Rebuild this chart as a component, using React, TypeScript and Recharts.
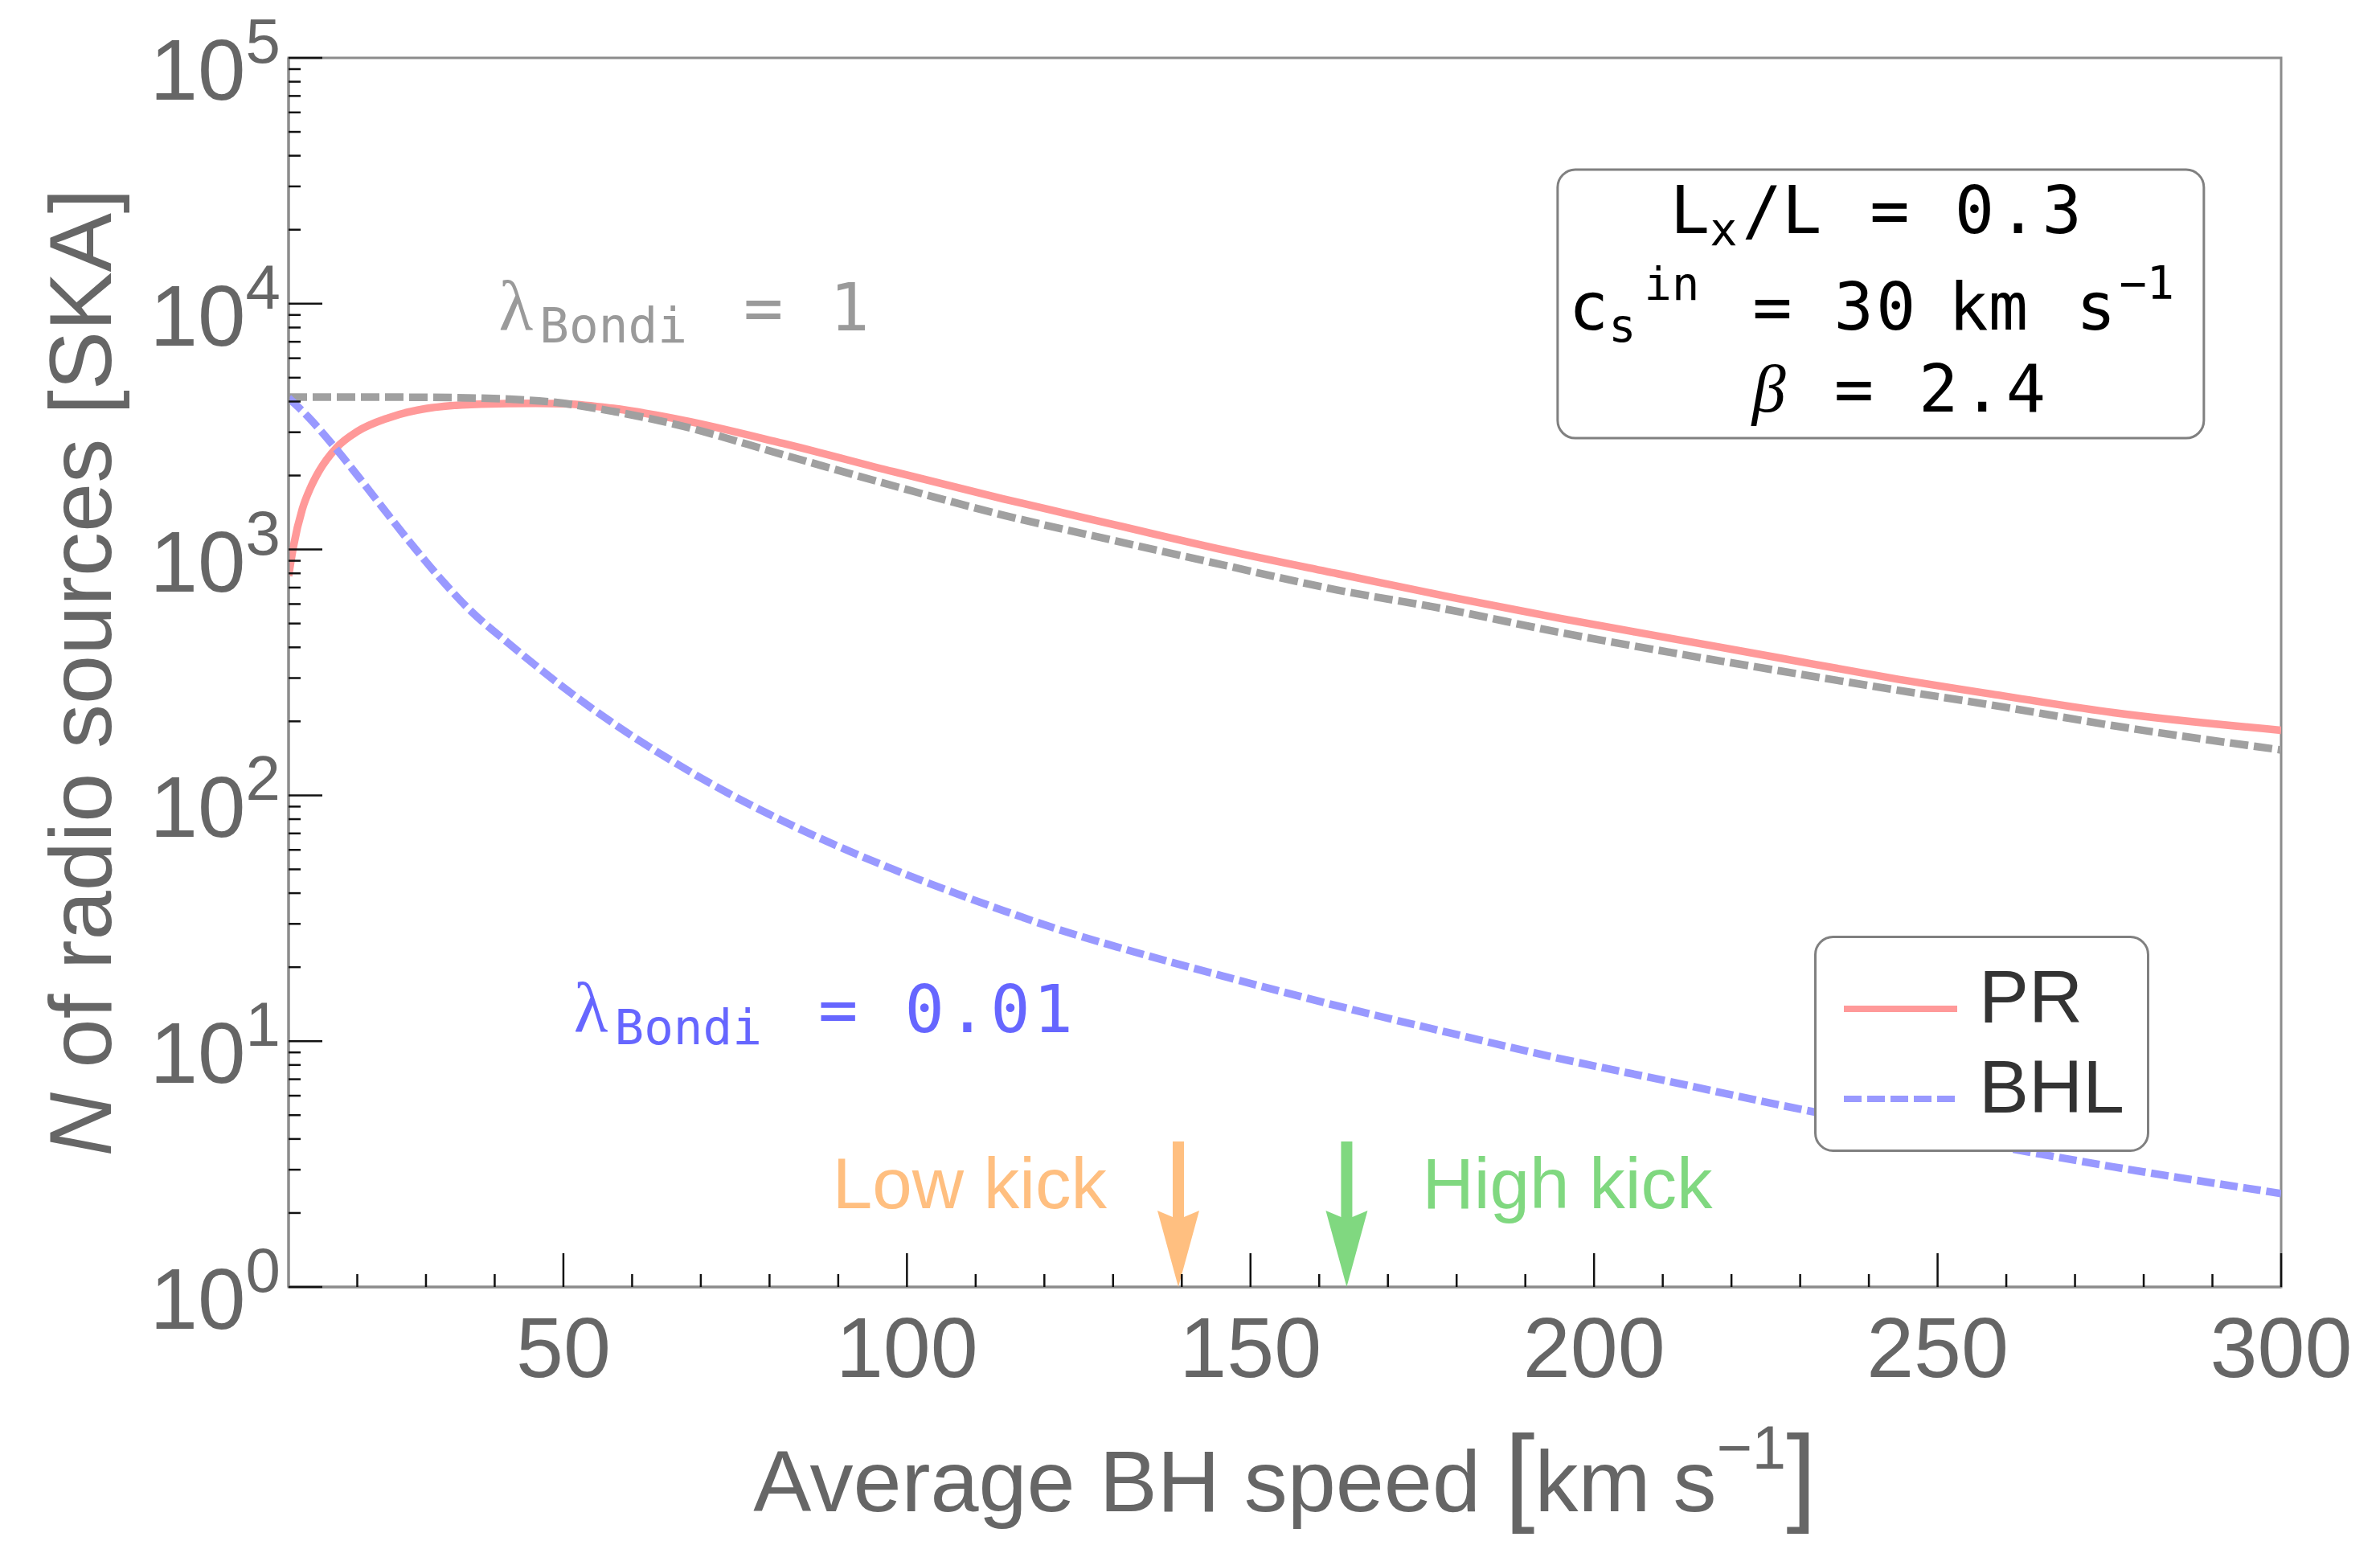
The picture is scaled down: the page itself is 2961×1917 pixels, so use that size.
import React from 'react';
import { LineChart, Line, XAxis, YAxis, ReferenceDot, ReferenceArea, Legend } from 'recharts';

const W = 2961;
const H = 1917;

// ---------- data ----------
const prSpeed = [10, 10.7, 12, 13.2, 14.4, 17, 20, 24.5, 30, 38, 46, 50, 56, 66, 82, 98, 114, 130.5, 146.6, 162.7, 179, 195, 211, 227, 243, 259.5, 275.6, 300];
const prCount = [780, 1027, 1460, 1785, 2075, 2600, 3020, 3430, 3745, 3905, 3935, 3920, 3790, 3420, 2700, 2074, 1608, 1256, 989, 797, 641, 525, 436, 362, 301, 254, 217, 184];

const bhlSpeed = [10, 12.8, 17.1, 20.6, 24.5, 28.4, 32.3, 36.2, 42, 50, 58, 66, 74, 82, 90, 98, 106, 114, 122, 130.5, 146.6, 162.7, 179, 195, 211, 227, 243, 259.5, 275.6, 300];
const bhlCount = [4140, 3475, 2530, 1910, 1384, 1010, 751, 574, 416, 275, 190, 137, 102, 78.5, 62, 50, 41, 34, 28.5, 24.2, 18.2, 13.9, 10.8, 8.5, 6.85, 5.5, 4.5, 3.7, 3.08, 2.4];

const bondiOneSpeed = [10, 20, 30, 36, 42, 48, 56, 66, 82, 98, 114, 130.5, 146.6, 162.7, 179, 195, 211, 227, 243, 259.5, 275.6, 300];
const bondiOneCount = [4170, 4170, 4160, 4140, 4090, 3990, 3700, 3245, 2430, 1817, 1380, 1082, 858, 684, 568, 460, 382, 321, 271, 229, 192, 153];

const xMajorTicks = [50, 100, 150, 200, 250, 300];
const xMinorTicks = [20, 30, 40, 60, 70, 80, 90, 110, 120, 130, 140, 160, 170, 180, 190, 210, 220, 230, 240, 260, 270, 280, 290];
const yMajorTicks = [1, 10, 100, 1000, 10000, 100000];
const yMinorMultipliers = [2, 3, 4, 5, 6, 7, 8, 9];

const legendOrder = ['PR', 'BHL'];

const lowKickSpeed = 139.5;
const highKickSpeed = 164;

// ---------- derived tables ----------
const zip = (xs: number[], ys: number[]) => xs.map((v, i) => ({ v, n: ys[i] }));
const prData = zip(prSpeed, prCount);
const bhlData = zip(bhlSpeed, bhlCount);
const bondiOneData = zip(bondiOneSpeed, bondiOneCount);

const xTicks = [...xMajorTicks, ...xMinorTicks].sort((a, b) => a - b);
const yTicks: number[] = [];
yMajorTicks.forEach((m, i) => {
  yTicks.push(m);
  if (i < yMajorTicks.length - 1) yMinorMultipliers.forEach((k) => yTicks.push(k * m));
});

const SANS = 'Liberation Sans, Arial, Helvetica, sans-serif';
const MONO = 'DejaVu Sans Mono, monospace';
const SERIF = 'Liberation Serif, Times New Roman, serif';
const LABEL_GRAY = '#666666';

const RED = '#ff9999';
const BLUE = '#9999ff';
const GRAY = '#a0a0a0';
const ORANGE = '#ffbf80';
const GREEN = '#80d880';

// ---------- ticks ----------
const XTick = (props: any) => {
  const { x, y, payload } = props;
  const v = payload.value;
  const major = xMajorTicks.includes(v);
  return (
    <g>
      <line x1={x} x2={x} y1={y} y2={y - (major ? 42 : 16)} stroke="#111" strokeWidth={2.5} />
      {major && (
        <text x={x} y={y + 112} textAnchor="middle" fontSize={106} fill={LABEL_GRAY} fontFamily={SANS}>
          {v}
        </text>
      )}
    </g>
  );
};

const YTick = (props: any) => {
  const { x, y, payload } = props;
  const v = payload.value;
  const e = Math.round(Math.log10(v));
  const major = Math.abs(v - Math.pow(10, e)) < 1e-6;
  return (
    <g>
      <line x1={x} x2={x + (major ? 42 : 15)} y1={y} y2={y} stroke="#111" strokeWidth={2.5} />
      {major && (
        <text x={x - 10} y={y + 52} textAnchor="end" fontSize={107} fill={LABEL_GRAY} fontFamily={SANS}>
          <tspan>10</tspan>
          <tspan dy={-46} fontSize={78}>{e}</tspan>
        </text>
      )}
    </g>
  );
};

// ---------- axis labels ----------
const YLabel = (props: any) => {
  const vb = props.viewBox;
  const x = vb.x + 138;
  const y = vb.y + vb.height / 2;
  return (
    <text x={x} y={y} transform={`rotate(-90, ${x}, ${y})`} textAnchor="middle" fontSize={110} fill={LABEL_GRAY} fontFamily={SANS}>
      <tspan fontStyle="italic">N</tspan>
      <tspan> of radio sources</tspan>
      <tspan dx={30}>[SKA]</tspan>
    </text>
  );
};

const XLabel = (props: any) => {
  const vb = props.viewBox;
  const x = vb.x + vb.width / 2;
  const y = vb.y + 279;
  return (
    <text x={x} y={y} textAnchor="middle" fontSize={108} fill={LABEL_GRAY} fontFamily={SANS}>
      <tspan>Average BH speed </tspan>
      <tspan fontSize={135}>[</tspan>
      <tspan>km</tspan>
      <tspan dx={28}>s</tspan>
      <tspan dy={-53} fontSize={76}>−1</tspan>
      <tspan dy={53} fontSize={135}>]</tspan>
    </text>
  );
};

// ---------- annotations ----------
const lambdaLabel = (value: string, color: string) => (p: any) => {
  const { cx, cy } = p;
  return (
    <text x={cx} y={cy} fill={color} fontFamily={MONO} fontSize={82}>
      <tspan fontFamily={SERIF} fontSize={88}>λ</tspan>
      <tspan dx={8} dy={15} fontSize={61}>Bondi</tspan>
      <tspan dx={70} dy={-15}>=</tspan>
      <tspan dx={58} letterSpacing={4}>{value}</tspan>
    </text>
  );
};

const kickArrow = (text: string, color: string, side: 'left' | 'right') => (p: any) => {
  const { cx, cy } = p;
  const pts = [
    [0, 0],
    [26, -95],
    [7, -87],
    [7, -181],
    [-7, -181],
    [-7, -87],
    [-26, -95],
  ]
    .map(([dx, dy]) => `${cx + dx},${cy + dy}`)
    .join(' ');
  return (
    <g>
      <polygon points={pts} fill={color} />
      <text
        x={side === 'left' ? cx - 89 : cx + 94}
        y={cy - 98}
        textAnchor={side === 'left' ? 'end' : 'start'}
        fontSize={89}
        fill={color}
        fontFamily={SANS}
      >
        {text}
      </text>
    </g>
  );
};

const paramsBox = (p: any) => {
  const { cx, cy } = p;
  return (
    <g transform={`translate(${cx}, ${cy})`}>
      <rect x={0} y={0} width={804} height={334} rx={22} ry={22} fill="#fff" stroke="#808080" strokeWidth={3} />
      <text x={140} y={79} fontFamily={MONO} fontSize={82} fill="#000">
        <tspan>L</tspan>
        <tspan dy={15} fontSize={57}>x</tspan>
        <tspan dy={-15} dx={6}>/L</tspan>
        <tspan dx={60}>=</tspan>
        <tspan dx={56} letterSpacing={5}>0.3</tspan>
      </text>
      <text x={14} y={199} fontFamily={MONO} fontSize={82} fill="#000">
        <tspan>c</tspan>
        <tspan dy={15} fontSize={57}>s</tspan>
        <tspan dy={-52} dx={10} fontSize={57}>in</tspan>
        <tspan dy={37} dx={66}>=</tspan>
        <tspan dx={52} letterSpacing={3}>30</tspan>
        <tspan dx={38}>km</tspan>
        <tspan dx={60}>s</tspan>
        <tspan dy={-38} dx={4} fontSize={57}>−1</tspan>
      </text>
      <text x={242} y={301} fontFamily={MONO} fontSize={82} fill="#000">
        <tspan fontFamily={SERIF} fontStyle="italic" fontSize={84}>β</tspan>
        <tspan dx={60}>=</tspan>
        <tspan dx={56} letterSpacing={5}>2.4</tspan>
      </text>
    </g>
  );
};

const LegendBox = (props: any) => {
  const all = (props.payload || []) as any[];
  const items = legendOrder
    .map((name) => all.find((it) => it.value === name))
    .filter(Boolean) as any[];
  return (
    <svg width={420} height={270} style={{ display: 'block' }}>
      <rect x={1.5} y={1.5} width={414} height={266} rx={22} ry={22} fill="#fff" stroke="#808080" strokeWidth={3} />
      {items.map((item, i) => {
        const y = 91 + i * 112;
        const dash = item.payload && item.payload.strokeDasharray;
        return (
          <g key={i}>
            <line x1={37} x2={178} y1={y} y2={y} stroke={item.color} strokeWidth={8} strokeDasharray={dash} />
            <text x={205} y={y + 17} fontSize={93} fill="#333" fontFamily={SANS}>
              {item.value}
            </text>
          </g>
        );
      })}
    </svg>
  );
};

export default function App() {
  return (
    <div style={{ position: 'absolute', left: 0, top: 0, width: W, height: H, background: '#fff' }}>
      <LineChart width={W} height={H} margin={{ top: 72, right: 123, left: 0, bottom: 0 }}>
        <XAxis
          dataKey="v"
          type="number"
          domain={[10, 300]}
          ticks={xTicks}
          interval={0}
          allowDataOverflow
          height={316}
          tickSize={0}
          tickMargin={0}
          tick={<XTick />}
          axisLine={{ stroke: '#8c8c8c', strokeWidth: 3 }}
          label={XLabel}
        />
        <YAxis
          type="number"
          scale="log"
          domain={[1, 100000]}
          ticks={yTicks}
          interval={0}
          allowDataOverflow
          width={359}
          tickSize={0}
          tickMargin={0}
          tick={<YTick />}
          axisLine={{ stroke: '#8c8c8c', strokeWidth: 3 }}
          label={YLabel}
        />
        <ReferenceArea x1={10} x2={300} y1={1} y2={100000} fill="none" fillOpacity={0} stroke="#8c8c8c" strokeWidth={3} ifOverflow="visible" />
        <Line data={prData} dataKey="n" name="PR" type="monotone" stroke={RED} strokeWidth={9.5} dot={false} isAnimationActive={false} />
        <Line
          data={bondiOneData}
          dataKey="n"
          name="BHL λ=1"
          type="monotone"
          stroke={GRAY}
          strokeWidth={9.5}
          strokeDasharray="23 7"
          dot={false}
          legendType="none"
          isAnimationActive={false}
        />
        <Line
          data={bhlData}
          dataKey="n"
          name="BHL"
          type="monotone"
          stroke={BLUE}
          strokeWidth={9.5}
          strokeDasharray="22 7"
          dot={false}
          isAnimationActive={false}
        />
        <ReferenceDot x={40.6} y={7816} r={0} ifOverflow="visible" shape={lambdaLabel('1', '#9a9a9a')} />
        <ReferenceDot x={51.5} y={10.88} r={0} ifOverflow="visible" shape={lambdaLabel('0.01', '#6666ff')} />
        <ReferenceDot x={194.7} y={35100} r={0} ifOverflow="visible" shape={paramsBox} />
        <ReferenceDot x={lowKickSpeed} y={1} r={0} ifOverflow="visible" shape={kickArrow('Low kick', ORANGE, 'left')} />
        <ReferenceDot x={highKickSpeed} y={1} r={0} ifOverflow="visible" shape={kickArrow('High kick', GREEN, 'right')} />
        <Legend
          layout="vertical"
          align="center"
          verticalAlign="middle"
          content={LegendBox}
          wrapperStyle={{ left: 2257, top: 1164, width: 420, height: 270 }}
        />
      </LineChart>
    </div>
  );
}
